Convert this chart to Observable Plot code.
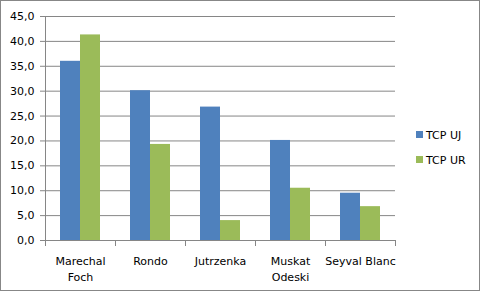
<!DOCTYPE html>
<html>
<head>
<meta charset="utf-8">
<script src="https://cdn.jsdelivr.net/npm/d3@7"></script>
<script src="https://cdn.jsdelivr.net/npm/@observablehq/plot@0.6"></script>
<style>
  html, body { margin: 0; padding: 0; background: #fff; }
  #wrap { position: relative; width: 482px; height: 292px; font-family: "DejaVu Sans", sans-serif; }
  #border { position: absolute; left: 0; top: 0; width: 480px; height: 291px; box-sizing: border-box; border: 1px solid #878787; pointer-events: none; }
  .sw { position: absolute; width: 7px; height: 7px; }
  .lt { position: absolute; font-size: 11px; line-height: 13px; color: #000; white-space: nowrap; }
  svg { position: absolute; left: 0; top: 0; }
</style>
</head>
<body>
<div id="wrap"></div>
<script>
const categories = ["Marechal Foch", "Rondo", "Jutrzenka", "Muskat Odeski", "Seyval Blanc"];
const tickLabels = ["Marechal\nFoch", "Rondo", "Jutrzenka", "Muskat\nOdeski", "Seyval Blanc"];
const series = ["TCP UJ", "TCP UR"];
const tcpUJ = [36.0, 30.1, 26.8, 20.1, 9.5];
const tcpUR = [41.3, 19.3, 4.0, 10.5, 6.8];
const yTicks = [0, 5, 10, 15, 20, 25, 30, 35, 40, 45];
const colors = ["#4F81BD", "#9BBB59"];

const data = categories.flatMap((c, i) => [
  {cat: c, series: series[0], value: tcpUJ[i]},
  {cat: c, series: series[1], value: tcpUR[i]}
]);
const labelOf = new Map(categories.map((c, i) => [c, tickLabels[i]]));
const grey = "#868686";

const chart = Plot.plot({
  width: 482,
  height: 292,
  marginLeft: 45,
  marginRight: 87,
  marginTop: 16,
  marginBottom: 52,
  style: {fontFamily: "DejaVu Sans", fontSize: "11px", color: "#000", background: "transparent"},
  fx: {domain: categories, padding: 0, label: null},
  x: {domain: series, paddingInner: 0, paddingOuter: 0.75, axis: null},
  y: {domain: [0, 45], label: null},
  color: {domain: series, range: colors},
  marks: [
    Plot.gridY(yTicks, {stroke: grey, strokeOpacity: 1}),
    Plot.barY(data, {fx: "cat", x: "series", y: "value", fill: "series"}),
    Plot.ruleY([0], {stroke: grey}),
    Plot.axisY({ticks: yTicks, tickSize: 5, tickPadding: 6, stroke: grey, fill: "#000", label: null,
      tickFormat: d => d.toFixed(1).replace(".", ",")}),
    Plot.axisFx({anchor: "bottom", tickSize: 0, tickPadding: 13, lineHeight: 1.45, fill: "#000", label: null,
      tickFormat: d => labelOf.get(d)}),
    Plot.frame({anchor: "left", facetAnchor: "left", stroke: grey}),
    Plot.frame({anchor: "left", insetTop: 224, insetBottom: -5, stroke: grey}),
    Plot.frame({anchor: "right", facetAnchor: "right", insetTop: 224, insetBottom: -5, stroke: grey})
  ]
});

const wrap = document.getElementById("wrap");
wrap.appendChild(chart);

const legendTop = [131, 156];
series.forEach((s, i) => {
  const sw = document.createElement("div");
  sw.className = "sw";
  sw.style.left = "416px";
  sw.style.top = legendTop[i] + "px";
  sw.style.background = colors[i];
  wrap.appendChild(sw);
  const t = document.createElement("div");
  t.className = "lt";
  t.style.left = "426px";
  t.style.top = (legendTop[i] - 2) + "px";
  t.textContent = s;
  wrap.appendChild(t);
});

const border = document.createElement("div");
border.id = "border";
wrap.appendChild(border);
</script>
</body>
</html>
